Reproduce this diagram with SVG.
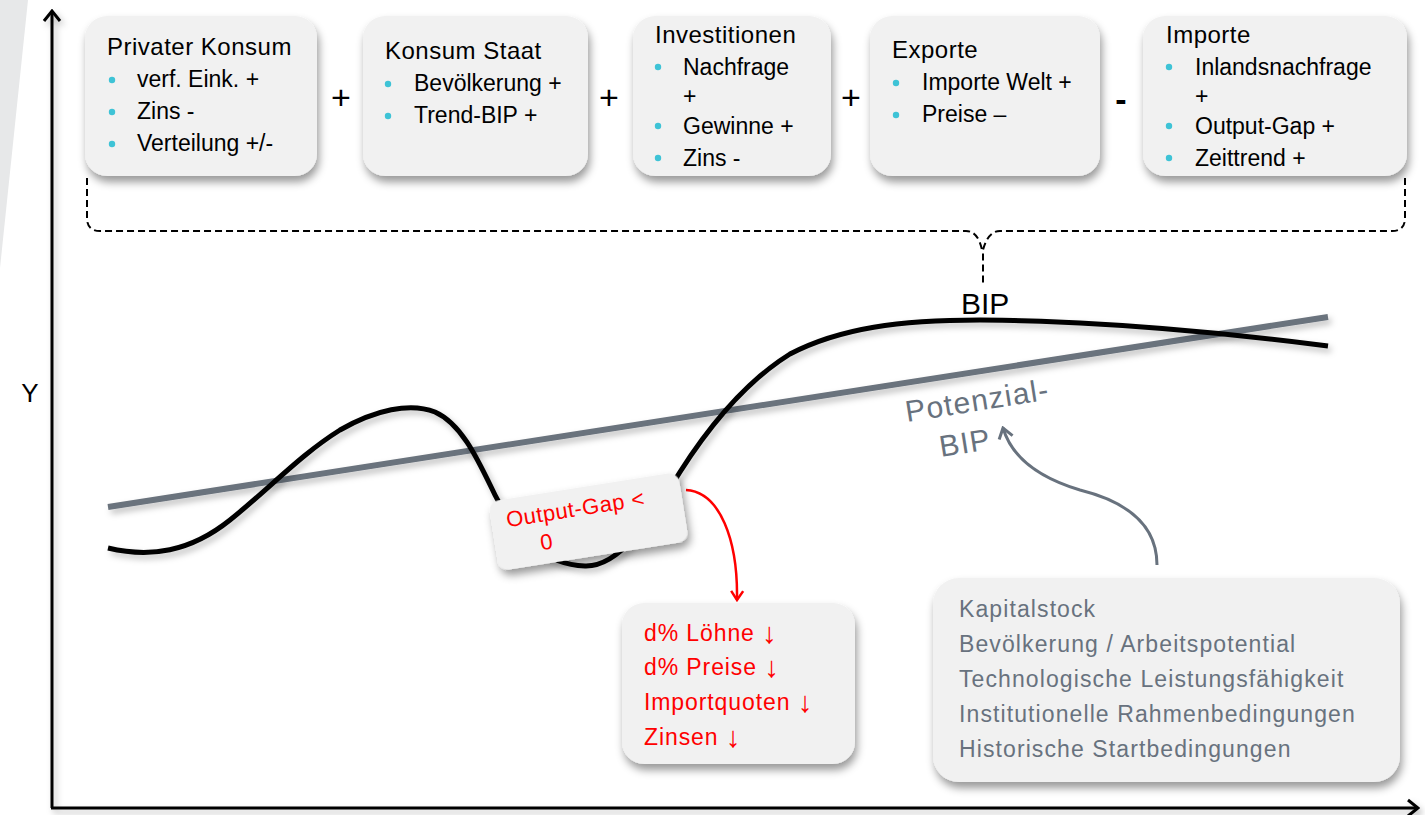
<svg xmlns="http://www.w3.org/2000/svg" width="1425" height="815" viewBox="0 0 1425 815">
<style>
.t{font-family:"Liberation Sans",Arial,Helvetica,sans-serif;fill:#000}
.title{font-size:24px;letter-spacing:0.5px}
.item{font-size:23px}
.op{font-size:34px}
.red{font-size:23px;fill:#ff0000;letter-spacing:0.9px}
.arr{font-size:29px;letter-spacing:0}
.gray{font-size:23px;fill:#68727e;letter-spacing:1.1px}
.pot{font-size:30px;fill:#68727e;letter-spacing:1.2px}
.bul{fill:#3ec3d6}
.box{fill:#f1f1f1}
</style>
<defs>
<filter id="sh" x="-10%" y="-10%" width="125%" height="135%">
<feDropShadow dx="2" dy="6" stdDeviation="4" flood-color="#000" flood-opacity="0.4"/>
</filter>
<filter id="lsh" x="-5%" y="-20%" width="110%" height="150%">
<feDropShadow dx="3" dy="4" stdDeviation="3" flood-color="#000" flood-opacity="0.25"/>
</filter>
<marker id="axisHead" viewBox="-12 -10 14 20" refX="0" refY="0" markerWidth="14" markerHeight="20" markerUnits="userSpaceOnUse" orient="auto">
<path d="M-10,-8 L0,0 L-10,8" fill="none" stroke="#000" stroke-width="3"/>
</marker>
<marker id="redHead" viewBox="-12 -8 14 16" refX="0" refY="0" markerWidth="14" markerHeight="16" markerUnits="userSpaceOnUse" orient="auto">
<path d="M-9,-6 L0,0 L-9,6" fill="none" stroke="#ff0000" stroke-width="2.5"/>
</marker>
<marker id="grayHead" viewBox="-12 -9 14 18" refX="0" refY="0" markerWidth="14" markerHeight="18" markerUnits="userSpaceOnUse" orient="auto">
<path d="M-10,-7 L0,0 L-10,7" fill="none" stroke="#68727e" stroke-width="3"/>
</marker>
</defs>

<rect width="1425" height="815" fill="#ffffff"/>
<polygon points="0,0 28,0 0,268" fill="#e7e8e9"/>

<g id="axes" filter="url(#lsh)">
<line x1="52" y1="808" x2="52" y2="11" stroke="#000" stroke-width="3" marker-end="url(#axisHead)"/>
<line x1="51" y1="808" x2="1418" y2="808" stroke="#000" stroke-width="3" marker-end="url(#axisHead)"/>
</g>
<text class="t" x="30" y="402" font-size="26" text-anchor="middle">Y</text>

<g id="curves">
<line id="potenzial-line" x1="108" y1="507" x2="1328" y2="317" stroke="#6b737d" stroke-width="6" filter="url(#lsh)"/>
<path id="bip-curve" d="M108,548 C150,558 190,552 230,520 C270,488 300,455 340,430 C375,410 410,402 435,412 C462,424 478,460 495,495 C515,535 545,565 585,566 C620,567 650,520 680,472 C710,425 745,382 790,354 C840,328 900,320 980,320 C1100,321 1230,333 1328,346" fill="none" stroke="#000" stroke-width="5" filter="url(#lsh)"/>
</g>

<g id="connectors">
<path d="M87,178 L87,218 Q87,231 100,231 L966,231 Q978,231 982,250 M1405,178 L1405,218 Q1405,231 1392,231 L1000,231 Q988,231 983,250 L983,286" fill="none" stroke="#000" stroke-width="2" stroke-dasharray="7 4"/>
<path d="M686,490 C720,492 738,540 737,600" fill="none" stroke="#ff0000" stroke-width="2.5" marker-end="url(#redHead)"/>
<path d="M1157,565 C1157,520 1120,500 1080,490 C1040,478 1012,458 1003,428" fill="none" stroke="#68727e" stroke-width="3" marker-end="url(#grayHead)"/>
</g>

<g id="privater-konsum">
<rect class="box" x="85" y="16" width="232" height="160" rx="22" filter="url(#sh)"/>
<text class="t title" x="107" y="55">Privater Konsum</text>
<circle class="bul" cx="112" cy="80" r="3.2"/><text class="t item" x="137" y="87">verf. Eink. +</text>
<circle class="bul" cx="112" cy="112" r="3.2"/><text class="t item" x="137" y="119">Zins -</text>
<circle class="bul" cx="112" cy="144" r="3.2"/><text class="t item" x="137" y="151">Verteilung +/-</text>
</g>
<text class="t op" x="341" y="109" text-anchor="middle">+</text>

<g id="konsum-staat">
<rect class="box" x="363" y="16" width="225" height="160" rx="22" filter="url(#sh)"/>
<text class="t title" x="385" y="59">Konsum Staat</text>
<circle class="bul" cx="388" cy="84" r="3.2"/><text class="t item" x="414" y="91">Bevölkerung +</text>
<circle class="bul" cx="388" cy="116" r="3.2"/><text class="t item" x="414" y="123">Trend-BIP +</text>
</g>
<text class="t op" x="609" y="109" text-anchor="middle">+</text>

<g id="investitionen">
<rect class="box" x="633" y="16" width="198" height="160" rx="22" filter="url(#sh)"/>
<text class="t title" x="655" y="43">Investitionen</text>
<circle class="bul" cx="658" cy="67" r="3.2"/><text class="t item" x="683" y="75">Nachfrage</text>
<text class="t item" x="683" y="104">+</text>
<circle class="bul" cx="658" cy="126" r="3.2"/><text class="t item" x="683" y="134">Gewinne +</text>
<circle class="bul" cx="658" cy="158" r="3.2"/><text class="t item" x="683" y="166">Zins -</text>
</g>
<text class="t op" x="851" y="109" text-anchor="middle">+</text>

<g id="exporte">
<rect class="box" x="870" y="16" width="230" height="160" rx="22" filter="url(#sh)"/>
<text class="t title" x="892" y="58">Exporte</text>
<circle class="bul" cx="896" cy="83" r="3.2"/><text class="t item" x="922" y="90">Importe Welt +</text>
<circle class="bul" cx="896" cy="115" r="3.2"/><text class="t item" x="922" y="122">Preise –</text>
</g>
<text class="t op" x="1121" y="111" text-anchor="middle" font-weight="bold">-</text>

<g id="importe">
<rect class="box" x="1143" y="16" width="264" height="160" rx="22" filter="url(#sh)"/>
<text class="t title" x="1166" y="43">Importe</text>
<circle class="bul" cx="1169" cy="67" r="3.2"/><text class="t item" x="1195" y="75">Inlandsnachfrage</text>
<text class="t item" x="1195" y="104">+</text>
<circle class="bul" cx="1169" cy="126" r="3.2"/><text class="t item" x="1195" y="134">Output-Gap +</text>
<circle class="bul" cx="1169" cy="158" r="3.2"/><text class="t item" x="1195" y="166">Zeittrend +</text>
</g>

<g id="bip-label">
<text class="t" x="961" y="314" font-size="30">BIP</text>
</g>

<g id="potenzial-label">
<text class="t pot" x="907" y="422" transform="rotate(-9 907 422)">Potenzial-</text>
<text class="t pot" x="941" y="457" transform="rotate(-9 941 457)">BIP</text>
</g>

<g id="output-gap" transform="translate(588.5 521.5) rotate(-9)">
<rect class="box" x="-96" y="-35" width="192" height="70" rx="10" filter="url(#sh)"/>
<text class="t" x="-81" y="-7" font-size="22" style="fill:#ff0000;letter-spacing:0.5px">Output-Gap &lt;</text>
<text class="t" x="-51" y="21" font-size="22" style="fill:#ff0000">0</text>
</g>

<g id="effekte">
<rect class="box" x="622" y="603" width="233" height="161" rx="22" filter="url(#sh)"/>
<text class="t red" x="644" y="641">d% Löhne <tspan class="arr" dy="2">↓</tspan></text>
<text class="t red" x="644" y="675">d% Preise <tspan class="arr" dy="2">↓</tspan></text>
<text class="t red" x="644" y="710">Importquoten <tspan class="arr" dy="2">↓</tspan></text>
<text class="t red" x="644" y="745">Zinsen <tspan class="arr" dy="2">↓</tspan></text>
</g>

<g id="determinanten">
<rect class="box" x="933" y="578" width="467" height="204" rx="26" filter="url(#sh)"/>
<text class="t gray" x="959" y="617">Kapitalstock</text>
<text class="t gray" x="959" y="652">Bevölkerung / Arbeitspotential</text>
<text class="t gray" x="959" y="687">Technologische Leistungsfähigkeit</text>
<text class="t gray" x="959" y="722">Institutionelle Rahmenbedingungen</text>
<text class="t gray" x="959" y="757">Historische Startbedingungen</text>
</g>
</svg>
